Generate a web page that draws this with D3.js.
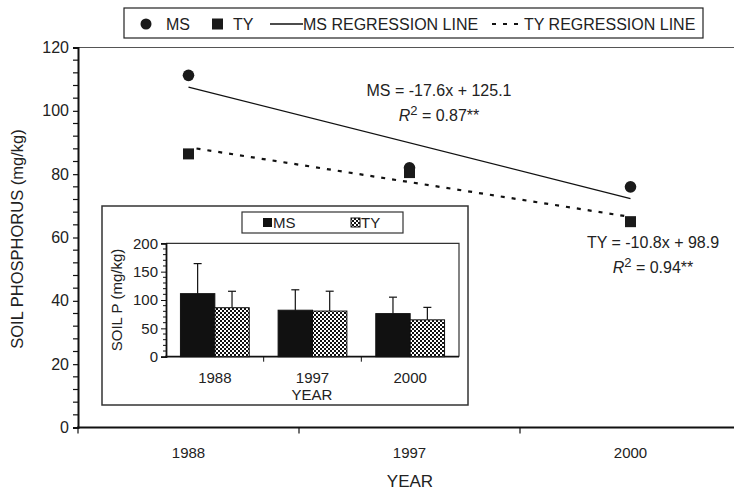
<!DOCTYPE html>
<html>
<head>
<meta charset="utf-8">
<script src="https://cdn.jsdelivr.net/npm/d3@7"></script>
<style>
  body { margin: 0; background: #fff; }
  svg text { font-family: "Liberation Sans", Arial, sans-serif; fill: #222; }
</style>
</head>
<body>
<div id="chart"></div>
<script>
// ---- data ----
var years = ["1988", "1997", "2000"];
var msValues = [111.2, 82.0, 76.0];
var tyValues = [86.4, 80.5, 65.0];
// regression line end points (at 1988 and 2000)
var msFit = [107.5, 72.3];
var tyFit = [88.1, 66.5];
var yTicks = [0, 20, 40, 60, 80, 100, 120];
// inset bar chart (means and upper error bars)
var msSd = [53, 36, 29];
var tySd = [29, 35, 22];
var insetTicks = [0, 50, 100, 150, 200];

var W = 734, H = 493;
var svg = d3.select("#chart").append("svg")
	.attr("width", W).attr("height", H);

// pattern for the checkered TY bars
var defs = svg.append("defs");
var pat = defs.append("pattern")
	.attr("id", "checker")
	.attr("patternUnits", "userSpaceOnUse")
	.attr("width", 4).attr("height", 4);
pat.append("rect").attr("width", 4).attr("height", 4).attr("fill", "#fff");
pat.append("rect").attr("width", 2).attr("height", 2).attr("fill", "#111");
pat.append("rect").attr("x", 2).attr("y", 2).attr("width", 2).attr("height", 2).attr("fill", "#111");

// ---- main chart scales ----
var x = d3.scaleBand().domain(years).range([78, 741]);
var y = d3.scaleLinear().domain([0, 120]).range([427.5, 47.5]);

// top frame line
svg.append("line")
	.attr("x1", 78).attr("x2", 741)
	.attr("y1", y(120)).attr("y2", y(120))
	.attr("stroke", "#555").attr("stroke-width", 1);

// y axis
var yAxis = d3.axisLeft(y).tickValues(yTicks).tickSize(5).tickPadding(4);
var gy = svg.append("g").attr("transform", "translate(78,0)").call(yAxis);
gy.select(".domain").attr("stroke", "#111").attr("stroke-width", 2);
gy.selectAll(".tick line").attr("stroke", "#111").attr("stroke-width", 1.2);
gy.selectAll(".tick text").style("font-size", "16px").attr("fill", "#222");
// minor ticks every 4
var minor = d3.range(0, 121, 4).filter(function (v) { return v % 20 !== 0; });
svg.append("g").selectAll("line").data(minor).enter().append("line")
	.attr("x1", 73).attr("x2", 78)
	.attr("y1", function (d) { return y(d); })
	.attr("y2", function (d) { return y(d); })
	.attr("stroke", "#111").attr("stroke-width", 1.2);

// x axis
var gx = svg.append("g").attr("transform", "translate(0," + y(0) + ")");
gx.append("line").attr("x1", 77).attr("x2", 741)
	.attr("stroke", "#111").attr("stroke-width", 2.2);
var bounds = [x.range()[0]].concat(years.slice(1).map(function (d) { return x(d); }));
gx.selectAll(".sep").data(bounds).enter().append("line")
	.attr("x1", function (d) { return d; }).attr("x2", function (d) { return d; })
	.attr("y1", 0).attr("y2", 6)
	.attr("stroke", "#111").attr("stroke-width", 1.2);
gx.selectAll(".lab").data(years).enter().append("text")
	.attr("x", function (d) { return x(d) + x.bandwidth() / 2; })
	.attr("y", 30)
	.attr("text-anchor", "middle")
	.style("font-size", "15px")
	.text(function (d) { return d; });

svg.append("text")
	.attr("x", 410).attr("y", 487)
	.attr("text-anchor", "middle")
	.style("font-size", "17px")
	.text("YEAR");
svg.append("text")
	.attr("transform", "translate(23,239) rotate(-90)")
	.attr("text-anchor", "middle")
	.style("font-size", "16.5px")
	.text("SOIL PHOSPHORUS (mg/kg)");

function cx(d) { return x(d) + x.bandwidth() / 2; }

// regression lines
var ends = [years[0], years[years.length - 1]];
svg.append("line")
	.attr("x1", cx(ends[0])).attr("y1", y(msFit[0]))
	.attr("x2", cx(ends[1])).attr("y2", y(msFit[1]))
	.attr("stroke", "#111").attr("stroke-width", 1.3);
svg.append("line")
	.attr("x1", cx(ends[0]) + 8).attr("y1", y(tyFit[0]))
	.attr("x2", cx(ends[1])).attr("y2", y(tyFit[1]))
	.attr("stroke", "#111").attr("stroke-width", 2.2)
	.attr("stroke-dasharray", "4,7");

// points
svg.selectAll(".ty").data(years).enter().append("rect")
	.attr("x", function (d) { return cx(d) - 5.5; })
	.attr("y", function (d, i) { return y(tyValues[i]) - 5.5; })
	.attr("width", 11).attr("height", 11)
	.attr("fill", "#1a1a1a");
svg.selectAll(".ms").data(years).enter().append("circle")
	.attr("cx", cx)
	.attr("cy", function (d, i) { return y(msValues[i]); })
	.attr("r", 5.8)
	.attr("fill", "#1a1a1a");

// equations
function equation(xc, yb, first, r2) {
	svg.append("text").attr("x", xc).attr("y", yb)
		.attr("text-anchor", "middle").style("font-size", "16px").text(first);
	var t = svg.append("text").attr("x", xc).attr("y", yb + 25)
		.attr("text-anchor", "middle").style("font-size", "16px");
	t.append("tspan").style("font-style", "italic").text("R");
	t.append("tspan").attr("dy", -6).style("font-size", "13px").text("2");
	t.append("tspan").attr("dy", 6).text(" = " + r2 + "**");
}
equation(439, 96, "MS = -17.6x + 125.1", "0.87");
equation(653, 248, "TY = -10.8x + 98.9", "0.94");

// ---- main legend ----
var lg = svg.append("g");
lg.append("rect").attr("x", 124).attr("y", 8).attr("width", 579).attr("height", 30)
	.attr("fill", "#fff").attr("stroke", "#222").attr("stroke-width", 1.2);
lg.append("circle").attr("cx", 146).attr("cy", 24).attr("r", 5.5).attr("fill", "#1a1a1a");
lg.append("text").attr("x", 166).attr("y", 30).style("font-size", "16px").text("MS");
lg.append("rect").attr("x", 212).attr("y", 18.5).attr("width", 11).attr("height", 11).attr("fill", "#1a1a1a");
lg.append("text").attr("x", 233).attr("y", 30).style("font-size", "16px").text("TY");
lg.append("line").attr("x1", 270).attr("x2", 303).attr("y1", 24).attr("y2", 24)
	.attr("stroke", "#111").attr("stroke-width", 1.3);
lg.append("text").attr("x", 303).attr("y", 30).style("font-size", "16px").text("MS REGRESSION LINE");
lg.append("line").attr("x1", 492).attr("x2", 524).attr("y1", 24).attr("y2", 24)
	.attr("stroke", "#111").attr("stroke-width", 2.2).attr("stroke-dasharray", "4,7");
lg.append("text").attr("x", 524).attr("y", 30).style("font-size", "16px").text("TY REGRESSION LINE");

// ---- inset bar chart ----
var ins = svg.append("g");
ins.append("rect").attr("x", 102).attr("y", 206).attr("width", 366).attr("height", 199)
	.attr("fill", "#fff").attr("stroke", "#333").attr("stroke-width", 1.5);

var ix = d3.scaleBand().domain(years).range([166, 459]);
var iy = d3.scaleLinear().domain([0, 200]).range([356.7, 243.3]);
var sub = d3.scaleBand().domain(["MS", "TY"]).range([0, ix.bandwidth()]).paddingOuter(0.42);

// frame top and right
ins.append("path")
	.attr("d", "M166," + iy(200) + "H459V" + iy(0))
	.attr("fill", "none").attr("stroke", "#333").attr("stroke-width", 1.2);

var iyAxis = d3.axisLeft(iy).tickValues(insetTicks).tickSize(5).tickPadding(3);
var giy = ins.append("g").attr("transform", "translate(166,0)").call(iyAxis);
giy.select(".domain").attr("stroke", "#111").attr("stroke-width", 1.8);
giy.selectAll(".tick line").attr("stroke", "#111");
giy.selectAll(".tick text").style("font-size", "15px").attr("fill", "#222");
var iminor = d3.range(0, 201, 10).filter(function (v) { return v % 50 !== 0; });
ins.append("g").selectAll("line").data(iminor).enter().append("line")
	.attr("x1", 163).attr("x2", 166)
	.attr("y1", function (d) { return iy(d); }).attr("y2", function (d) { return iy(d); })
	.attr("stroke", "#111");

var gix = ins.append("g").attr("transform", "translate(0," + iy(0) + ")");
gix.append("line").attr("x1", 165).attr("x2", 459)
	.attr("stroke", "#111").attr("stroke-width", 1.8);
gix.selectAll(".sep").data(years.slice(1)).enter().append("line")
	.attr("x1", function (d) { return ix(d); }).attr("x2", function (d) { return ix(d); })
	.attr("y1", 0).attr("y2", 5).attr("stroke", "#111");
gix.selectAll(".lab").data(years).enter().append("text")
	.attr("x", function (d) { return ix(d) + ix.bandwidth() / 2; })
	.attr("y", 26).attr("text-anchor", "middle")
	.style("font-size", "15px")
	.text(function (d) { return d; });
ins.append("text").attr("x", 312).attr("y", 400).attr("text-anchor", "middle")
	.style("font-size", "15px").text("YEAR");
ins.append("text").attr("transform", "translate(122,300) rotate(-90)")
	.attr("text-anchor", "middle").style("font-size", "15px").text("SOIL P (mg/kg)");

var barData = [];
years.forEach(function (yr, i) {
	barData.push({ year: yr, key: "MS", v: msValues[i], sd: msSd[i] });
	barData.push({ year: yr, key: "TY", v: tyValues[i], sd: tySd[i] });
});
ins.selectAll(".bar").data(barData).enter().append("rect")
	.attr("x", function (d) { return ix(d.year) + sub(d.key); })
	.attr("y", function (d) { return iy(d.v); })
	.attr("width", sub.bandwidth())
	.attr("height", function (d) { return iy(0) - iy(d.v); })
	.attr("fill", function (d) { return d.key === "MS" ? "#111" : "url(#checker)"; })
	.attr("stroke", "#111").attr("stroke-width", 1);
var eb = ins.selectAll(".err").data(barData).enter().append("g");
eb.append("line")
	.attr("x1", function (d) { return ix(d.year) + sub(d.key) + sub.bandwidth() / 2; })
	.attr("x2", function (d) { return ix(d.year) + sub(d.key) + sub.bandwidth() / 2; })
	.attr("y1", function (d) { return iy(d.v); })
	.attr("y2", function (d) { return iy(d.v + d.sd); })
	.attr("stroke", "#111").attr("stroke-width", 1.2);
eb.append("line")
	.attr("x1", function (d) { return ix(d.year) + sub(d.key) + sub.bandwidth() / 2 - 4; })
	.attr("x2", function (d) { return ix(d.year) + sub(d.key) + sub.bandwidth() / 2 + 4; })
	.attr("y1", function (d) { return iy(d.v + d.sd); })
	.attr("y2", function (d) { return iy(d.v + d.sd); })
	.attr("stroke", "#111").attr("stroke-width", 1.2);

// inset legend
ins.append("rect").attr("x", 242).attr("y", 212).attr("width", 161).attr("height", 21)
	.attr("fill", "#fff").attr("stroke", "#333").attr("stroke-width", 1.2);
ins.append("rect").attr("x", 263).attr("y", 218).attr("width", 9).attr("height", 9).attr("fill", "#111");
ins.append("text").attr("x", 273).attr("y", 228).style("font-size", "15px").text("MS");
ins.append("rect").attr("x", 351).attr("y", 218).attr("width", 9).attr("height", 9)
	.attr("fill", "url(#checker)").attr("stroke", "#111");
ins.append("text").attr("x", 361).attr("y", 228).style("font-size", "15px").text("TY");
</script>
</body>
</html>
